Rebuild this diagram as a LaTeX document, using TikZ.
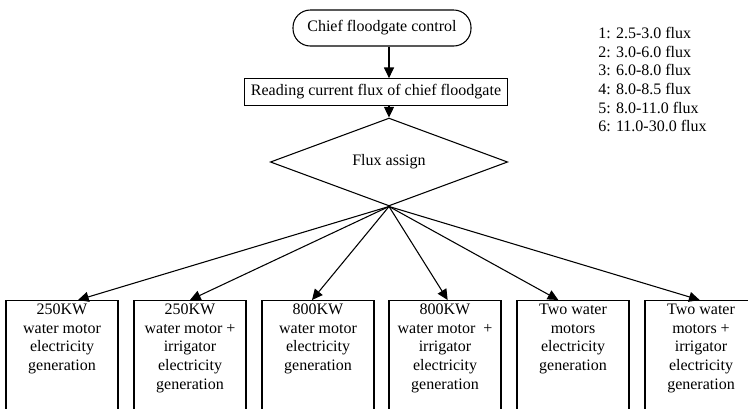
\documentclass[tikz,border=0pt]{standalone}
\usepackage{fontspec}
\setmainfont{Liberation Serif}
\usetikzlibrary{arrows.meta}
\usetikzlibrary{shapes.geometric}
\usetikzlibrary{positioning}
\tikzset{flow/.style = {draw, line width = 0.8pt, font = \fontsize{12}{14}\selectfont}}
\tikzset{terminal/.style = {flow, rounded corners = 13pt, minimum width = 133.5pt, minimum height = 27pt, inner sep = 0}}
\tikzset{process/.style = {flow, minimum width = 197pt, minimum height = 20pt, inner sep = 0}}
\tikzset{decision/.style = {flow, diamond, minimum width = 178pt, minimum height = 42pt, inner sep = 0}}
\tikzset{unit/.style = {flow, anchor = north, inner xsep = 1pt, inner ysep = 2.5pt}}
\tikzset{link/.style = {line width = 0.8pt, -{Triangle[length = 8pt, width = 7.5pt]}}}
\newcommand{\unittext}[1]{\parbox[t][86pt][t]{82pt}{\centering #1}}

\begin{document}
\begin{tikzpicture}[x = 0.75pt, y = -0.75pt]
    \useasboundingbox (0, 0) rectangle (748, 408);
    \clip (0, 0) rectangle (748, 408);
    \node [terminal] (ctrl) at (382, 28) {Chief floodgate control};
    \node [process] (read) at (376, 92) {Reading current flux of chief floodgate};
    \node [decision] (assign) at (389, 162) {Flux assign};
    \node [font = \fontsize{12}{14}\selectfont, anchor = north west, inner sep = 0, align = left] (legend) at (598, 27)
      {1: 2.5-3.0 flux\\2: 3.0-6.0 flux\\3: 6.0-8.0 flux\\4: 8.0-8.5 flux\\5: 8.0-11.0 flux\\6: 11.0-30.0 flux};
    \node [unit] (g1) at (62, 300) {\unittext{250KW\\water motor\\electricity\\generation}};
    \node [unit] (g2) at (190, 300) {\unittext{250KW\\water motor +\\irrigator\\electricity\\generation}};
    \node [unit] (g3) at (318, 300) {\unittext{800KW\\water motor\\electricity\\generation}};
    \node [unit] (g4) at (445, 300) {\unittext{800KW\\water motor~~+\\irrigator\\electricity\\generation}};
    \node [unit] (g5) at (573, 300) {\unittext{Two water\\motors\\electricity\\generation}};
    \node [unit] (g6) at (701, 300) {\unittext{Two water\\motors +\\irrigator\\electricity\\generation}};
    \draw [link] (ctrl.south -| assign.north) -- (read.north -| assign.north);
    \draw [link] (read.south -| assign.north) -- (assign.north);
    \foreach \i/\s in {1/12, 2/0, 3/-4.5, 4/2, 5/-11, 6/-1}
      \draw [link] (assign.south) -- ([xshift = \s pt] g\i.north);
  \end{tikzpicture}
\end{document}
